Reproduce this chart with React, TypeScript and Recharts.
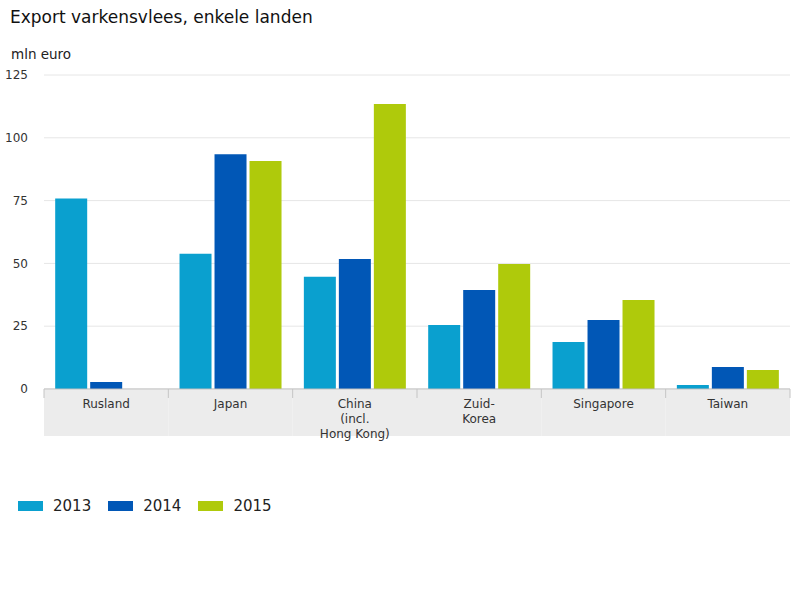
import { Bar, BarChart, CartesianGrid, XAxis, YAxis } from "recharts";

const countries = ["Rusland", "Japan", "China\n(incl.\nHong Kong)", "Zuid-\nKorea", "Singapore", "Taiwan"];
const v2013 = [75.8, 53.8, 44.7, 25.5, 18.7, 1.6];
const v2014 = [2.8, 93.5, 51.8, 39.4, 27.5, 8.8];
const v2015 = [0, 90.8, 113.5, 49.8, 35.4, 7.6];
const yTicks = [0, 25, 50, 75, 100, 125];

const series = [
  { key: "y2013", name: "2013", color: "#0aa0cf" },
  { key: "y2014", name: "2014", color: "#0157b6" },
  { key: "y2015", name: "2015", color: "#afca0b" },
];

const data = countries.map((label, i) => ({
  label,
  y2013: v2013[i],
  y2014: v2014[i],
  y2015: v2015[i],
}));

const FONT = "Verdana, 'DejaVu Sans', sans-serif";

function CategoryTick(props: any) {
  const { x, y, payload, width, visibleTicksCount } = props;
  const band = width / visibleTicksCount;
  const left = x - band / 2;
  const lines = String(payload.value).split("\n");
  return (
    <g>
      <rect x={left} y={y + 1} width={band} height={46} fill="#ececec" />
      <line x1={left} y1={y} x2={left} y2={y + 9} stroke="#c4c4c4" />
      {payload.index === visibleTicksCount - 1 && (
        <line x1={left + band} y1={y} x2={left + band} y2={y + 9} stroke="#c4c4c4" />
      )}
      {lines.map((l, i) => (
        <text
          key={i}
          x={x}
          y={y + 19 + i * 15}
          textAnchor="middle"
          fontSize={12}
          fontFamily={FONT}
          fill="#333"
        >
          {l}
        </text>
      ))}
    </g>
  );
}

function LegendBox() {
  return (
    <div
      style={{
        position: "absolute",
        left: 18,
        top: 497,
        display: "flex",
        alignItems: "center",
        fontFamily: FONT,
        fontSize: 15,
        color: "#222",
      }}
    >
      {series.map((s) => (
        <div key={s.key} style={{ display: "flex", alignItems: "center", marginRight: 17 }}>
          <span style={{ width: 25, height: 10, background: s.color, display: "inline-block", marginRight: 10 }} />
          <span>{s.name}</span>
        </div>
      ))}
    </div>
  );
}

export default function App() {
  return (
    <div style={{ position: "absolute", left: 0, top: 0, width: 800, height: 600, background: "#fff" }}>
      <div
        style={{
          position: "absolute",
          left: 10,
          top: 7,
          fontFamily: FONT,
          fontSize: 17,
          color: "#111",
        }}
      >
        Export varkensvlees, enkele landen
      </div>
      <div
        style={{
          position: "absolute",
          left: 11,
          top: 46,
          fontFamily: FONT,
          fontSize: 13.5,
          color: "#222",
        }}
      >
        mln euro
      </div>
      <BarChart
        width={800}
        height={600}
        data={data}
        margin={{ top: 75, right: 10, left: 0, bottom: 164 }}
        barCategoryGap="9%"
        barGap={3}
      >
        <CartesianGrid vertical={false} stroke="#e6e6e6" />
        <XAxis
          dataKey="label"
          interval={0}
          tickLine={false}
          tickSize={0}
          tickMargin={0}
          axisLine={{ stroke: "#bdbdbd" }}
          tick={<CategoryTick />}
          height={47}
        />
        <YAxis
          domain={[0, 125]}
          ticks={yTicks}
          width={44}
          tickSize={0}
          tickMargin={16}
          axisLine={false}
          tickLine={false}
          tick={{ fontSize: 12, fill: "#333", fontFamily: FONT }}
        />
        {series.map((s) => (
          <Bar key={s.key} dataKey={s.key} name={s.name} fill={s.color} isAnimationActive={false} />
        ))}
      </BarChart>
      <LegendBox />
    </div>
  );
}
